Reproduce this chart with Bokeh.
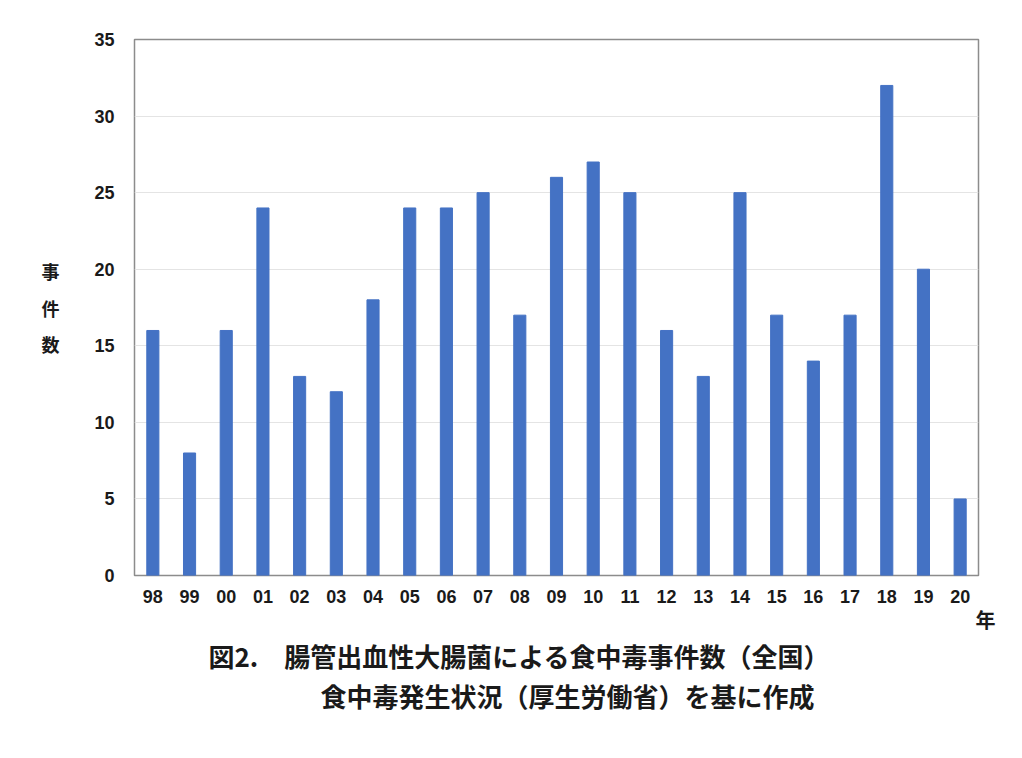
from bokeh.plotting import figure
from bokeh.models import Range1d, FixedTicker, Title
from bokeh.embed import file_html
from bokeh.resources import INLINE

years = ["98", "99", "00", "01", "02", "03", "04", "05", "06", "07", "08", "09",
         "10", "11", "12", "13", "14", "15", "16", "17", "18", "19", "20"]
cases = [16, 8, 16, 24, 13, 12, 18, 24, 24, 25, 17, 26, 27, 25, 16, 13, 25, 17, 14, 17, 32, 20, 5]
y_ticks = [0, 5, 10, 15, 20, 25, 30, 35]
y_label = "事\n件\n数"
caption1 = "図2.\u3000腸管出血性大腸菌による食中毒事件数（全国）"
caption2 = "食中毒発生状況（厚生労働省）を基に作成"
x_unit_label = "年"

idx = list(range(len(years)))

p = figure(width=1022, height=758, output_backend="svg", toolbar_location=None,
           x_range=Range1d(-0.5, len(years) - 0.5), y_range=Range1d(0, 35),
           min_border_left=134, min_border_right=44, min_border_top=39, min_border_bottom=183)
p.vbar(x=idx, top=cases, width=0.33, color="#4472C4")

p.outline_line_color = "#8c8c8c"
p.outline_line_width = 1.5
p.xgrid.grid_line_color = None
p.ygrid.grid_line_color = "#e4e4e4"
p.ygrid.ticker = FixedTicker(ticks=y_ticks)

for ax in (p.xaxis[0], p.yaxis[0]):
    ax.axis_line_color = None
    ax.major_tick_line_color = None
    ax.minor_tick_line_color = None
    ax.major_tick_in = 0
    ax.major_tick_out = 0
    ax.major_label_text_font = "Liberation Sans"
    ax.major_label_text_font_size = "18px"
    ax.major_label_text_font_style = "bold"
    ax.major_label_text_color = "#1a1a1a"

jp = "Noto Sans CJK JP"

p.yaxis.ticker = FixedTicker(ticks=y_ticks)
p.yaxis.major_label_standoff = 20
p.yaxis.axis_label = y_label
p.yaxis.axis_label_orientation = "horizontal"
p.yaxis.axis_label_text_font = jp
p.yaxis.axis_label_text_font_size = "18px"
p.yaxis.axis_label_text_font_style = "bold"
p.yaxis.axis_label_text_color = "#1a1a1a"
p.yaxis.axis_label_text_line_height = 1.4
p.yaxis.axis_label_standoff = 32

p.xaxis.ticker = FixedTicker(ticks=idx)
p.xaxis.major_label_overrides = {i: y for i, y in zip(idx, years)}
p.xaxis.major_label_standoff = 14


def add_title(text, size, align, offset, standoff):
    t = Title(text=text, align=align, offset=offset, standoff=standoff,
              text_font=jp, text_font_size=size, text_font_style="bold",
              text_color="#1a1a1a")
    p.add_layout(t, "below")


add_title(x_unit_label, "20px", "right", -17, -6)
add_title(caption1, "26px", "left", 74, 9)
add_title(caption2, "26px", "left", 186, -7)

open("out.html", "w").write(file_html(p, INLINE))
